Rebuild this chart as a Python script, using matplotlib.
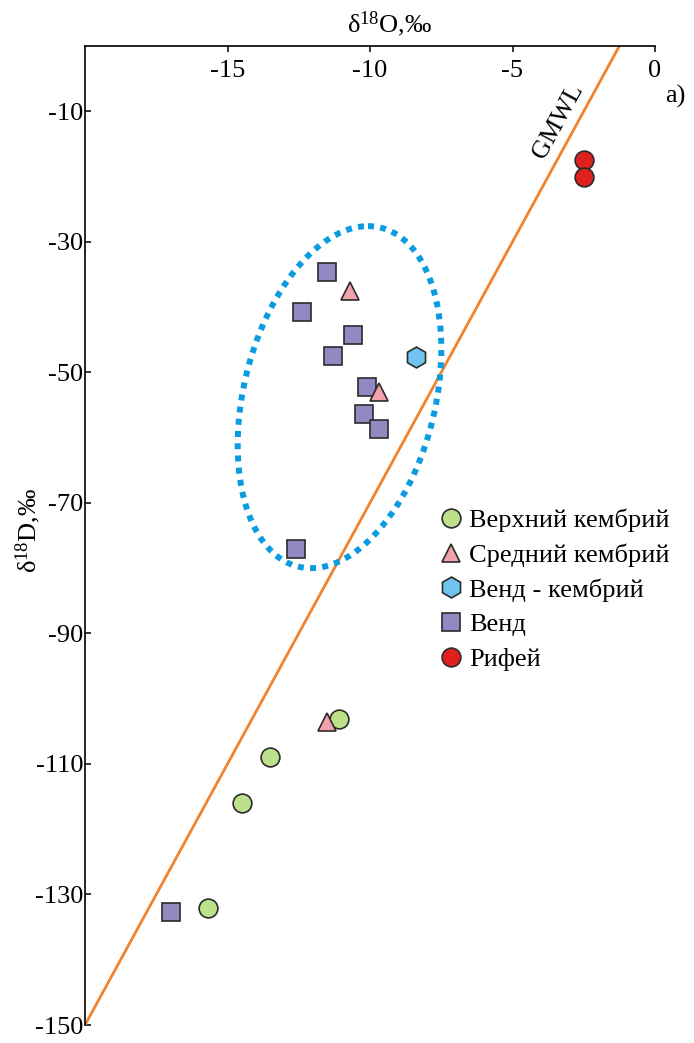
"""
Изотопный состав вод: δ18O – δD с линией GMWL
"""
import numpy as np
import matplotlib
matplotlib.use('Agg')
import matplotlib.pyplot as plt

plt.rcParams['font.family'] = ['Liberation Serif', 'DejaVu Serif']
plt.rcParams['mathtext.fontset'] = 'custom'
plt.rcParams['mathtext.rm'] = 'Liberation Serif'
plt.rcParams['mathtext.it'] = 'Liberation Serif:italic'
plt.rcParams['axes.unicode_minus'] = False

# Данные (δ18O, δD)
upper_camb_o = [-11.1, -13.5, -14.5, -15.7]
upper_camb_d = [-103.1, -109.0, -116.0, -132.0]
mid_camb_o = [-10.7, -9.7, -11.5]
mid_camb_d = [-37.6, -53.0, -103.6]
vend_camb_o = [-8.4]
vend_camb_d = [-47.6]
vend_o = [-11.5, -12.4, -10.6, -11.3, -10.1, -10.2, -9.7, -12.6, -17.0]
vend_d = [-34.6, -40.7, -44.3, -47.5, -52.3, -56.4, -58.7, -77.1, -132.7]
riphean_o = [-2.5, -2.5]
riphean_d = [-17.5, -20.1]

x_ticks = [-15, -10, -5, 0]
y_ticks = [-150, -130, -110, -90, -70, -50, -30, -10]

# GMWL: δD = 8 δ18O + 10
gmwl_slope, gmwl_icpt = 8, 10

# Эллипс (центр и сопряжённые полуоси)
ell_center = (-11.07, -53.8)
ell_u = (1.0, 26.2)
ell_v = (3.43, 0.0)

fig = plt.figure(figsize=(6.94, 10.43), dpi=100)
ax = fig.add_axes([85 / 694, 1 - 1025 / 1043, 570 / 694, 979 / 1043])
ax.set_xlim(-20, 0)
ax.set_ylim(-150, 0)

# GMWL
gx = np.array([-20, 0])
ax.plot(gx, gmwl_slope * gx + gmwl_icpt, color='#f0832f', lw=2.0, zorder=2)

# Эллипс
t = np.linspace(0, 2 * np.pi, 400)
ex = ell_center[0] + ell_u[0] * np.cos(t) + ell_v[0] * np.sin(t)
ey = ell_center[1] + ell_u[1] * np.cos(t) + ell_v[1] * np.sin(t)
ax.plot(ex, ey, color='#0a9be0', lw=4.3, linestyle=(0, (1, 1.05)),
        dash_capstyle='butt', zorder=2)

ec = '#2b2b2b'
ax.plot(upper_camb_o, upper_camb_d, 'o', ms=13.5, mfc='#bde08a', mec=ec,
        mew=1.2, ls='none', label='Верхний кембрий', zorder=3)
ax.plot(mid_camb_o, mid_camb_d, '^', ms=13, mfc='#f2a2aa', mec=ec,
        mew=1.2, ls='none', label='Средний кембрий', zorder=4)
ax.plot(vend_camb_o, vend_camb_d, 'h', ms=15, mfc='#70c4ef', mec=ec,
        mew=1.2, ls='none', label='Венд - кембрий', zorder=3)
ax.plot(vend_o, vend_d, 's', ms=12.5, mfc='#9289c2', mec=ec,
        mew=1.2, ls='none', label='Венд', zorder=3)
ax.plot(riphean_o, riphean_d, 'o', ms=13.5, mfc='#e0201e', mec=ec,
        mew=1.2, ls='none', label='Рифей', zorder=3)

# Оси
ax.spines['top'].set_visible(False)
ax.spines['right'].set_visible(False)
ax.spines['bottom'].set_position(('data', 0))
ax.spines['bottom'].set_linewidth(1.2)
ax.spines['left'].set_linewidth(1.2)
ax.set_xticks(x_ticks)
ax.set_yticks(y_ticks)
ax.tick_params(axis='x', direction='out', length=4, width=1.1, pad=6, labelsize=19)
ax.tick_params(axis='y', direction='in', length=4, width=1.1, pad=1, labelsize=19)

fig.text(390 / 694, 1 - 24 / 1043, 'δ$^{18}$O,‰', ha='center', va='center', fontsize=19)
fig.text(28 / 694, 1 - 530 / 1043, 'δ$^{18}$D,‰', ha='center', va='center',
         rotation=90, fontsize=19)
fig.text(675 / 694, 1 - 96 / 1043, 'a)', ha='center', va='center', fontsize=19)

# Подпись GMWL вдоль линии
p1 = ax.transData.transform((-5, gmwl_slope * -5 + gmwl_icpt))
p2 = ax.transData.transform((-3, gmwl_slope * -3 + gmwl_icpt))
ang = np.degrees(np.arctan2(p2[1] - p1[1], p2[0] - p1[0]))
ax.text(-3.4, -11.5, 'GMWL', rotation=ang, rotation_mode='anchor',
        ha='center', va='center', fontsize=18.5)

ax.legend(loc='upper left', bbox_to_anchor=(440 / 694, 1 - 509 / 1043),
          bbox_transform=fig.transFigure, frameon=False, fontsize=19,
          handlelength=0.8, handletextpad=0.3, labelspacing=0.42,
          borderpad=0, borderaxespad=0, markerscale=1.0)

plt.savefig('out.png', dpi=100)
plt.close()
